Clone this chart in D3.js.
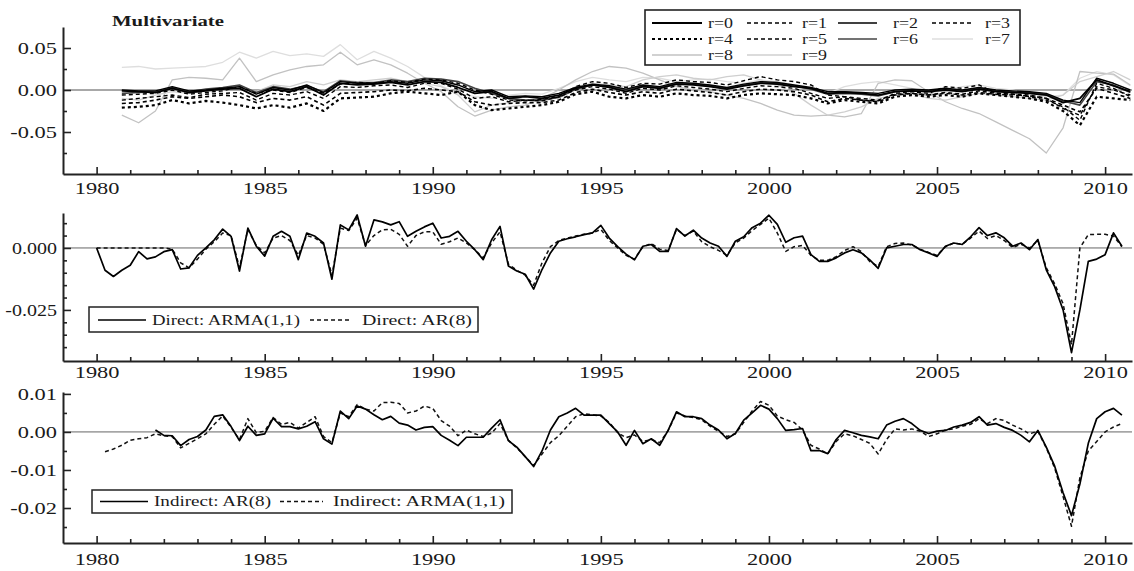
<!DOCTYPE html>
<html><head><meta charset="utf-8">
<script src="https://cdn.jsdelivr.net/npm/d3@7"></script>
<style>body{margin:0;background:#fff}svg{display:block}</style>
</head><body>
<svg id="chart" width="1134" height="571"></svg>
<script>
// ---------------- DATA ----------------
const yearTicks = [1980, 1985, 1990, 1995, 2000, 2005, 2010];
const minorYears = d3.range(1980, 2011);

// Top panel: "Multivariate", semi-annual readings starting 1980.75
const multiStart = 1980.75;
const multiStep = 0.5;
const multiLabels = ["r=0","r=1","r=2","r=3","r=4","r=5","r=6","r=7","r=8","r=9"];
const multiR0 = [-0.001,-0.002,-0.003,0.002,-0.003,-0.001,0.001,0.002,-0.008,0.001,
  -0.002,0.004,-0.006,0.008,0.006,0.007,0.009,0.006,0.010,0.009,
  0.003,-0.004,-0.002,-0.010,-0.008,-0.010,-0.006,0.002,0.006,0.003,
  -0.002,0.004,0.002,0.007,0.006,0.004,0.001,0.005,0.008,0.007,
  0.004,0.002,-0.004,-0.003,-0.004,-0.006,-0.002,-0.001,-0.002,0.000,
  -0.002,0.001,-0.002,-0.003,-0.004,-0.006,-0.015,-0.010,0.012,0.005,-0.002];
const multiR1 = [-0.012,-0.010,-0.008,-0.006,-0.009,-0.005,-0.004,-0.003,-0.012,-0.004,
  -0.006,-0.002,-0.010,0.004,0.003,0.005,0.006,0.003,0.008,0.008,
  0.001,-0.010,-0.008,-0.014,-0.012,-0.013,-0.008,0.000,0.004,0.001,
  -0.004,0.002,0.000,0.005,0.003,0.001,-0.002,0.002,0.005,0.004,
  0.002,-0.004,-0.010,-0.008,-0.010,-0.012,-0.005,-0.004,-0.006,-0.004,
  -0.006,-0.003,-0.005,-0.006,-0.007,-0.010,-0.022,-0.030,0.004,0.000,-0.006];
const multiR2 = [0.000,-0.001,-0.001,0.004,-0.001,0.000,0.002,0.004,-0.005,0.003,
  0.000,0.006,-0.003,0.010,0.008,0.008,0.010,0.008,0.012,0.011,
  0.006,-0.002,0.000,-0.008,-0.007,-0.008,-0.004,0.003,0.007,0.005,
  0.001,0.006,0.004,0.009,0.008,0.006,0.003,0.007,0.010,0.009,
  0.006,0.003,-0.002,-0.002,-0.003,-0.004,0.000,0.001,0.000,0.002,
  0.000,0.003,0.000,-0.001,-0.002,-0.004,-0.012,-0.015,0.014,0.008,0.000];
const multiR3 = [-0.006,-0.005,-0.004,0.000,-0.005,-0.003,-0.001,0.004,-0.004,0.000,
  -0.003,0.003,-0.004,0.007,0.009,0.008,0.011,0.009,0.013,0.012,
  0.008,0.000,-0.005,-0.012,-0.013,-0.011,-0.008,0.004,0.010,0.008,
  0.003,0.008,0.007,0.012,0.010,0.009,0.006,0.011,0.016,0.012,
  0.010,0.006,-0.006,-0.008,-0.012,-0.013,-0.004,-0.002,-0.004,0.004,
  0.002,0.006,-0.004,-0.005,-0.008,-0.012,-0.020,-0.036,0.008,0.002,-0.008];
const multiR4 = [-0.021,-0.020,-0.018,-0.012,-0.016,-0.013,-0.015,-0.018,-0.022,-0.018,
  -0.021,-0.016,-0.025,-0.010,-0.009,-0.008,-0.004,-0.002,-0.004,-0.006,
  -0.002,-0.018,-0.024,-0.022,-0.020,-0.018,-0.014,-0.005,-0.002,-0.008,
  -0.010,-0.006,-0.008,-0.004,-0.006,-0.007,-0.010,-0.006,-0.004,-0.005,
  -0.006,-0.010,-0.016,-0.012,-0.014,-0.016,-0.008,-0.006,-0.008,-0.006,
  -0.008,-0.004,-0.006,-0.008,-0.010,-0.014,-0.025,-0.042,-0.008,-0.010,-0.012];
const multiR5 = [-0.016,-0.015,-0.012,-0.008,-0.010,-0.008,-0.006,-0.008,-0.015,-0.010,
  -0.012,-0.008,-0.018,-0.004,-0.003,-0.002,0.000,-0.001,0.002,0.000,
  -0.002,-0.014,-0.018,-0.016,-0.015,-0.015,-0.012,-0.003,0.001,-0.003,
  -0.006,-0.002,-0.004,0.001,-0.001,-0.003,-0.006,-0.002,0.001,0.000,
  -0.002,-0.006,-0.014,-0.010,-0.012,-0.014,-0.006,-0.004,-0.006,-0.003,
  -0.005,-0.001,-0.004,-0.005,-0.006,-0.010,-0.018,-0.026,0.002,-0.004,-0.010];
const multiR6 = [-0.004,-0.003,-0.002,0.003,-0.002,0.001,0.003,0.006,-0.003,0.004,
  0.001,0.005,-0.002,0.011,0.009,0.009,0.012,0.010,0.014,0.013,
  0.010,0.002,-0.004,-0.010,-0.012,-0.012,-0.009,0.001,0.006,0.004,
  0.000,0.005,0.003,0.008,0.007,0.005,0.002,0.006,0.009,0.008,
  0.005,0.001,-0.005,-0.004,-0.005,-0.007,-0.002,0.000,-0.001,0.001,
  -0.001,0.002,-0.001,-0.002,-0.003,-0.005,-0.013,-0.018,0.010,0.006,-0.003];
const multiR7 = [0.027,0.028,0.025,0.026,0.027,0.028,0.033,0.045,0.038,0.046,
  0.041,0.043,0.040,0.054,0.036,0.046,0.038,0.028,0.015,0.005,
  -0.004,-0.008,-0.010,-0.006,-0.004,-0.005,0.002,0.010,0.015,0.012,
  0.010,0.015,0.014,0.010,0.012,0.013,0.010,0.008,0.012,0.010,
  0.006,0.002,-0.004,0.004,0.008,0.010,0.006,0.002,-0.004,0.000,
  0.004,0.006,0.002,0.000,-0.004,-0.008,-0.006,0.014,0.022,0.018,0.005];
const multiR8 = [-0.030,-0.039,-0.025,0.012,0.015,0.014,0.012,0.038,0.010,0.018,
  0.024,0.028,0.030,0.045,0.030,0.036,0.030,0.020,0.008,-0.002,
  -0.020,-0.031,-0.024,-0.020,-0.018,-0.010,0.000,0.012,0.022,0.028,
  0.026,0.020,0.012,0.004,0.000,-0.002,-0.006,-0.010,-0.016,-0.024,
  -0.030,-0.031,-0.030,-0.032,-0.028,0.008,0.012,0.011,-0.002,-0.014,
  -0.022,-0.028,-0.038,-0.048,-0.058,-0.075,-0.045,0.022,0.020,0.019,0.006];
const multiR9 = [-0.010,-0.012,-0.006,-0.002,-0.004,0.000,0.002,0.004,-0.002,0.006,
  0.004,0.010,0.006,0.012,0.010,0.012,0.014,0.010,0.008,0.004,
  -0.006,-0.026,-0.018,-0.015,-0.012,-0.014,-0.008,0.004,0.008,0.006,
  0.004,0.012,0.016,0.018,0.014,0.012,0.016,0.018,0.012,0.006,
  -0.004,-0.018,-0.030,-0.026,-0.020,-0.010,-0.006,-0.004,-0.010,-0.012,
  -0.008,-0.004,-0.006,-0.008,-0.010,-0.012,-0.006,0.010,0.016,0.022,0.012];

// Middle panel: quarterly from 1980Q1
const directStart = 1980.0;
const directLabels = ["Direct: ARMA(1,1)", "Direct: AR(8)"];
const directArma = [0,-0.009,-0.0115,-0.009, -0.007,-0.0015,-0.0044,-0.0036,
  -0.0015,-0.0007,-0.0085,-0.008, -0.003,0,0.0033,0.0076,
  0.0047,-0.0093,0.008,0.0007, -0.0033,0.0047,0.0067,0.0047,
  -0.0047,0.006,0.0047,0.002, -0.0126,0.0093,0.0073,0.0133,
  0.0007,0.0113,0.0105,0.0093, 0.0106,0.0047,0.0067,0.0085,
  0.01,0.004,0.0047,0.0067, 0.0027,-0.0007,-0.0047,0.0033,
  0.0087,-0.0073,-0.0093,-0.0106, -0.0166,-0.0087,-0.002,0.0027,
  0.0037,0.0045,0.0054,0.0061, 0.0091,0.004,0.0005,-0.0025,
  -0.0048,0.0007,0.0014,-0.0014, -0.0014,0.0078,0.0048,0.0072,
  0.004,0.002,0.0007,-0.0034, 0.0027,0.0045,0.0082,0.01,
  0.0132,0.0095,0.0023,0.0041, 0.0048,-0.0027,-0.0054,-0.0054,
  -0.004,-0.002,-0.0007,-0.002, -0.0048,-0.0082,0,0.0007,
  0.0014,0.0014,-0.0007,-0.002, -0.0034,0.0007,0.002,0.0014,
  0.0045,0.0082,0.005,0.0061, 0.0041,0.0007,0.002,-0.0007,
  0.0034,-0.0088,-0.0156,-0.025, -0.0422,-0.025,-0.0054,-0.0045,
  -0.0027,0.0061,0.0007];
const directAr8 = [0,0,0,0, 0,0,0,0,
  0,-0.0005,-0.006,-0.008, -0.0045,-0.0005,0.0025,0.006,
  0.005,-0.008,0.0075,0.001, -0.002,0.004,0.005,0.003,
  -0.003,0.005,0.004,0.0015, -0.011,0.008,0.007,0.012,
  0.001,0.005,0.0073,0.0075, 0.0055,0.0007,0.005,0.0065,
  0.0065,0.0015,0.0025,0.004, 0.002,-0.0007,-0.004,0.002,
  0.0065,-0.0065,-0.009,-0.011, -0.015,-0.006,0.0005,0.003,
  0.004,0.0048,0.0055,0.006, 0.0075,0.003,0,-0.003,
  -0.0045,0.0005,0.0018,-0.0005, -0.001,0.0075,0.005,0.0068,
  0.0025,0.0005,-0.001,-0.003, 0.002,0.004,0.007,0.0095,
  0.012,0.006,-0.0014,0.0005, 0.001,-0.003,-0.005,-0.005,
  -0.0035,-0.001,0.0005,-0.0015, -0.0055,-0.0075,0.0005,0.0018,
  0.002,0.0012,-0.0005,-0.0018, -0.003,0.0005,0.002,0.0015,
  0.004,0.0068,0.0038,0.005, 0.003,0.0002,0.0015,0,
  0.003,-0.008,-0.0145,-0.0225, -0.039,0,0.0054,0.0055,
  0.0055,0.0048,0.0005];

// Bottom panel: quarterly
const indirectLabels = ["Indirect: AR(8)", "Indirect: ARMA(1,1)"];
const indirectAr8Start = 1981.75;
const indirectAr8 = [0.0005,
  -0.0009,-0.001,-0.0036,-0.002, -0.0012,0.0005,0.0041,0.0045,
  0.0014,-0.0023,0.0015,-0.0009, -0.0005,0.0036,0.0014,0.0014,
  0.0008,0.0015,0.0027,-0.0018, -0.0032,0.0055,0.0035,0.0068,
  0.006,0.0045,0.0032,0.0041, 0.0023,0.0018,0.0005,0.0012,
  0.0014,-0.0009,-0.0022,-0.0036, -0.0014,-0.0014,-0.0014,0.001,
  0.0032,-0.0023,-0.004,-0.0065, -0.0091,-0.005,0.0005,0.004,
  0.005,0.0062,0.0044,0.0044, 0.0044,0.0022,0,-0.0035,
  0.0004,-0.0031,-0.0018,-0.0035, 0.0004,0.0053,0.004,0.004,
  0.0035,0.0018,0.0005,-0.0018, -0.0004,0.0031,0.005,0.007,
  0.006,0.0035,0.0004,0.0006, 0.0009,-0.0049,-0.0049,-0.0057,
  -0.002,0.0004,-0.0002,-0.0009, -0.0013,-0.0018,0.0018,0.0028,
  0.0035,0.0022,0.0004,-0.0004, 0.0002,0.0004,0.0013,0.0018,
  0.0025,0.004,0.0018,0.0022, 0.0012,0.0004,-0.0009,-0.0026,
  0.0004,-0.004,-0.009,-0.016, -0.022,-0.0137,-0.003,0.0035,
  0.0053,0.0062,0.0044];
const indirectArmaStart = 1980.25;
const indirectArma = [-0.0052,-0.0045,-0.0035,
  -0.0022,-0.0018,-0.0015,-0.0005, -0.001,-0.0012,-0.0042,-0.003,
  -0.0018,-0.0005,0.002,0.0042, 0.0012,-0.002,0.0035,-0.0002,
  0.0002,0.0038,0.002,0.0025, 0.001,0.0025,0.004,-0.0012,
  -0.0028,0.005,0.004,0.0072, 0.006,0.0055,0.0077,0.0078,
  0.0075,0.005,0.0055,0.0068, 0.0062,0.003,0.0015,-0.001,
  0.0005,-0.0005,-0.0012,-0.0003, 0.0022,-0.0022,-0.0042,-0.0065,
  -0.0088,-0.0058,-0.0028,-0.001, 0.0015,0.004,0.0048,0.0045,
  0.0042,0.0025,-0.0002,-0.0015, -0.0008,-0.0025,-0.002,-0.0028,
  0.0003,0.005,0.0042,0.0038, 0.0032,0.0015,0.0002,-0.0012,
  -0.0005,0.0025,0.0055,0.008, 0.007,0.0042,0.0032,0.0025,
  0.0005,-0.0035,-0.0045,-0.0058, -0.0025,-0.0005,-0.001,-0.002,
  -0.003,-0.0058,-0.002,0.0008, 0.0005,0.0008,0.0002,-0.0012,
  -0.0005,0.0005,0.0008,0.0015, 0.002,0.0035,0.0022,0.0035,
  0.003,0.0018,0.0008,-0.0005, 0.0002,-0.0042,-0.0095,-0.017,
  -0.0248,-0.012,-0.005,-0.0025, 0,0.0013,0.0022];

// Axis tick values / labels
const topTicks = [0.05, 0, -0.05], topTickLabels = ["0.05", "0.00", "-0.05"];
const topMinor = [0.025, -0.025, -0.075];
const midTicks = [0, -0.025], midTickLabels = ["0.000", "-0.025"];
const midMinor = [0.01, 0.005, -0.005, -0.01, -0.015, -0.02, -0.03, -0.035, -0.04];
const botTicks = [0.01, 0, -0.01, -0.02], botTickLabels = ["0.01", "0.00", "-0.01", "-0.02"];
const botMinor = [0.005, -0.005, -0.015, -0.025];

// ---------------- DRAWING ----------------
const FONT = "'Liberation Serif','DejaVu Serif',serif";
const svg = d3.select("#chart");
svg.append("rect").attr("width", 1134).attr("height", 571).attr("fill", "#fff");
const xScale = d3.scaleLinear().domain([1979, 2010.8]).range([63, 1132]);

function toPts(start, step, vals) { return vals.map((v, i) => ({t: start + i * step, v: v})); }

function drawPanel(cfg) {
  const g = svg.append("g");
  const y = d3.scaleLinear().domain(cfg.domain).range(cfg.range);
  g.append("line").attr("x1", xScale.range()[0]).attr("x2", xScale.range()[1])
    .attr("y1", y(0)).attr("y2", y(0))
    .attr("stroke", cfg.zeroColor).attr("stroke-width", cfg.zeroWidth);
  const line = d3.line().x(d => xScale(d.t)).y(d => y(d.v));
  cfg.series.forEach(s => {
    g.append("path").datum(s.pts).attr("d", line).attr("fill", "none")
      .attr("stroke", s.color).attr("stroke-width", s.width)
      .attr("stroke-dasharray", s.dash || null).attr("stroke-linejoin", "round");
  });
  const xb = cfg.range[0];
  const xAxis = g.append("g").attr("transform", `translate(0,${xb})`)
    .call(d3.axisBottom(xScale).tickValues(yearTicks).tickFormat(d3.format("d"))
      .tickSize(-7).tickSizeOuter(0).tickPadding(cfg.xPad));
  const xMin = g.append("g").attr("transform", `translate(0,${xb})`)
    .call(d3.axisBottom(xScale).tickValues(minorYears.filter(d => d % 5 !== 0)).tickFormat("").tickSize(-4).tickSizeOuter(0));
  xMin.select(".domain").remove();
  const yAxis = g.append("g").attr("transform", `translate(${xScale.range()[0]},0)`)
    .call(d3.axisLeft(y).tickValues(cfg.ticks).tickFormat((d, i) => cfg.tickLabels[i])
      .tickSize(-8).tickSizeOuter(0).tickPadding(7));
  const yMin = g.append("g").attr("transform", `translate(${xScale.range()[0]},0)`)
    .call(d3.axisLeft(y).tickValues(cfg.minor).tickFormat("").tickSize(-4).tickSizeOuter(0));
  yMin.select(".domain").remove();
  [xAxis, yAxis].forEach(a => a.select(".domain").attr("stroke", "#222").attr("stroke-width", 2));
  [xAxis, xMin, yAxis, yMin].forEach(a => a.selectAll(".tick line").attr("stroke", "#222").attr("stroke-width", 1.6));
  xAxis.selectAll("text").attr("font-family", FONT).attr("font-size", 16).attr("fill", "#1a1a1a")
    .attr("transform", "scale(1.4,1)");
  yAxis.selectAll("text").attr("font-family", FONT).attr("font-size", 16).attr("fill", "#1a1a1a")
    .attr("x", -6 / cfg.ySX).attr("transform", `scale(${cfg.ySX},1)`);
  return {g, y};
}

function sample(g, x1, x2, yy, color, width, dash) {
  g.append("line").attr("x1", x1).attr("x2", x2).attr("y1", yy).attr("y2", yy)
    .attr("stroke", color).attr("stroke-width", width).attr("stroke-dasharray", dash || null);
}
function label(g, tx, ty, txt, opts) {
  const t = g.append("text").attr("x", tx).attr("y", ty).text(txt)
    .attr("font-family", FONT).attr("font-size", opts.size).attr("fill", "#1a1a1a")
    .attr("dominant-baseline", "central");
  if (opts.len) t.attr("textLength", opts.len).attr("lengthAdjust", "spacingAndGlyphs");
  if (opts.anchor) t.attr("text-anchor", opts.anchor);
  if (opts.weight) t.attr("font-weight", opts.weight);
  return t;
}

// ---- top panel ----
const multiVals = [multiR0, multiR1, multiR2, multiR3, multiR4, multiR5, multiR6, multiR7, multiR8, multiR9];
const multiStyle = [
  {color: "#000", width: 1.8},
  {color: "#000", width: 1.4, dash: "4,3"},
  {color: "#000", width: 1.4},
  {color: "#000", width: 1.4, dash: "4,3"},
  {color: "#000", width: 2.2, dash: "3,3"},
  {color: "#000", width: 1.6, dash: "4,3"},
  {color: "#444", width: 1.6},
  {color: "#dedede", width: 1.3},
  {color: "#c2c2c2", width: 1.3},
  {color: "#cfcfcf", width: 1.3}
];
const drawOrder = [7, 8, 9, 6, 5, 4, 3, 2, 1, 0];
drawPanel({
  domain: [-0.1, 0.075], range: [174, 27],
  ticks: topTicks, tickLabels: topTickLabels, minor: topMinor, ySX: 1.4,
  zeroColor: "#a8a8a8", zeroWidth: 1.8, xPad: 9,
  series: drawOrder.map(i => Object.assign({pts: toPts(multiStart, multiStep, multiVals[i])}, multiStyle[i]))
});
label(svg, 112, 21, "Multivariate", {size: 15, weight: "bold", len: 112});

const lg = svg.append("g");
lg.append("rect").attr("x", 645).attr("y", 10).attr("width", 375).attr("height", 55)
  .attr("fill", "#fff").attr("stroke", "#222").attr("stroke-width", 1.6);
const colStart = [652, 747, 838, 932], colLen = [50, 45, 39, 41], colText = [708, 802, 893, 985], rowY = [23, 39, 55];
multiLabels.forEach((name, i) => {
  const c = i % 4, r = Math.floor(i / 4), st = multiStyle[i];
  sample(lg, colStart[c], colStart[c] + colLen[c], rowY[r], st.color, st.width, st.dash);
  label(lg, colText[c], rowY[r], name, {size: 14, len: 25});
});

// ---- middle panel ----
drawPanel({
  domain: [-0.0456, 0.0141], range: [361, 213],
  ticks: midTicks, tickLabels: midTickLabels, minor: midMinor, ySX: 1.25,
  zeroColor: "#666", zeroWidth: 1, xPad: 6,
  series: [
    {pts: toPts(directStart, 0.25, directAr8), color: "#111", width: 1.5, dash: "4,3"},
    {pts: toPts(directStart, 0.25, directArma), color: "#000", width: 1.7}
  ]
});
const ml = svg.append("g");
ml.append("rect").attr("x", 89).attr("y", 307).attr("width", 389).attr("height", 25)
  .attr("fill", "#fff").attr("stroke", "#222").attr("stroke-width", 1.5);
sample(ml, 98, 146, 320, "#000", 1.7);
label(ml, 152, 320, directLabels[0], {size: 14, len: 148});
sample(ml, 310, 352, 320, "#111", 1.5, "4,3");
label(ml, 362, 320, directLabels[1], {size: 14, len: 110});

// ---- bottom panel ----
drawPanel({
  domain: [-0.0292, 0.0105], range: [543, 392],
  ticks: botTicks, tickLabels: botTickLabels, minor: botMinor, ySX: 1.4,
  zeroColor: "#666", zeroWidth: 1, xPad: 11,
  series: [
    {pts: toPts(indirectArmaStart, 0.25, indirectArma), color: "#111", width: 1.5, dash: "4,3"},
    {pts: toPts(indirectAr8Start, 0.25, indirectAr8), color: "#000", width: 1.7}
  ]
});
const bl = svg.append("g");
bl.append("rect").attr("x", 92).attr("y", 490).attr("width", 420).attr("height", 23)
  .attr("fill", "#fff").attr("stroke", "#222").attr("stroke-width", 1.5);
sample(bl, 100, 148, 501.5, "#000", 1.7);
label(bl, 154, 501.5, indirectLabels[0], {size: 14, len: 117});
sample(bl, 280, 323, 501.5, "#111", 1.5, "4,3");
label(bl, 333, 501.5, indirectLabels[1], {size: 14, len: 172});
</script>
</body></html>
